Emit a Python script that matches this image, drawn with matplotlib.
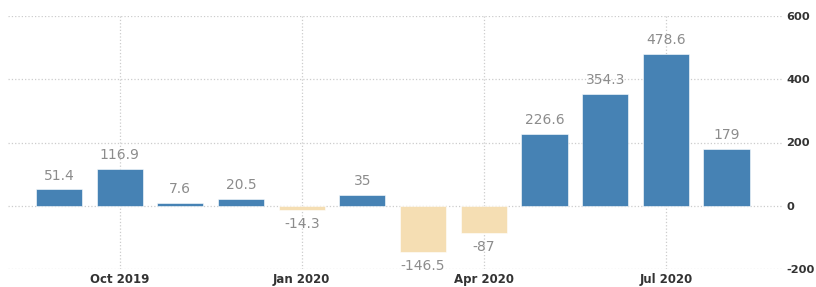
import matplotlib.pyplot as plt
import numpy as np

months = ['Sep 2019', 'Oct 2019', 'Nov 2019', 'Dec 2019', 'Jan 2020', 'Feb 2020',
          'Mar 2020', 'Apr 2020', 'May 2020', 'Jun 2020', 'Jul 2020', 'Aug 2020']
values = [51.4, 116.9, 7.6, 20.5, -14.3, 35, -146.5, -87, 226.6, 354.3, 478.6, 179]
labels = ['51.4', '116.9', '7.6', '20.5', '-14.3', '35', '-146.5', '-87',
          '226.6', '354.3', '478.6', '179']
tick_months = ['Oct 2019', 'Jan 2020', 'Apr 2020', 'Jul 2020']
yticks = [-200, 0, 200, 400, 600]

x = np.arange(len(months))
colors = ['#4682b4' if v >= 0 else '#f5deb3' for v in values]

fig = plt.figure(figsize=(8.16, 2.87), dpi=100)
ax = fig.add_axes([8 / 816, 18 / 287, 775 / 816, 253 / 287])

ax.bar(x, values, width=0.76, color=colors, edgecolor='white', linewidth=0.4, zorder=3)

for xi, v, lab in zip(x, values, labels):
    if v >= 0:
        ax.annotate(lab, (xi, v), xytext=(0, 5), textcoords='offset points',
                    ha='center', va='bottom', fontsize=10, color='#8c8c8c')
    else:
        ax.annotate(lab, (xi, v), xytext=(0, -5), textcoords='offset points',
                    ha='center', va='top', fontsize=10, color='#8c8c8c')

ax.set_xlim(-0.84, 11.93)
ax.set_ylim(-200, 600)
ax.set_xticks([months.index(m) for m in tick_months])
ax.set_xticklabels(tick_months, fontsize=8.5, fontweight='bold', color='#333333')
ax.set_yticks(yticks)
ax.set_yticklabels([str(t) for t in yticks], fontsize=8.2, fontweight='bold', color='#333333')
ax.yaxis.tick_right()
ax.tick_params(length=0)
ax.tick_params(axis='y', pad=2.5)
ax.tick_params(axis='x', pad=3)

ax.grid(True, linestyle=':', color='#cccccc', linewidth=0.9, zorder=0)
for s in ax.spines.values():
    s.set_visible(False)

fig.savefig('out.png', dpi=100)
